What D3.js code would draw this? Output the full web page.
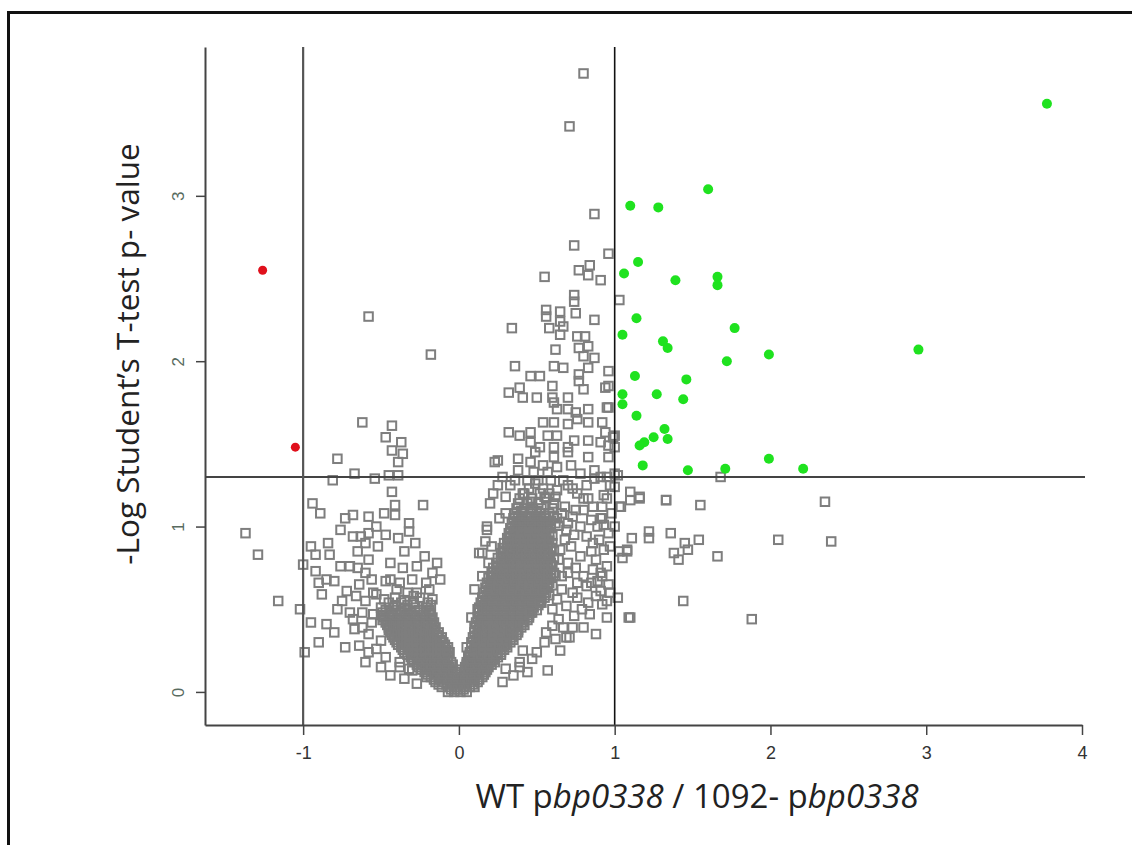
<!DOCTYPE html>
<meta charset="utf-8">
<style>
body { margin: 0; background: #fff; }
</style>
<svg width="1132" height="845" font-family="'Open Sans', Lato, sans-serif"></svg>
<script src="https://d3js.org/d3.v7.min.js"></script>
<script>

// tick values and cut-offs
const xTicks = [-1, 0, 1, 2, 3, 4];
const yTicks = [0, 1, 2, 3];
const foldCuts = [-1, 1];
const pCut = 1.3;

// significant proteins: [log ratio, -log p]
const upRegulated = [
	[3.775, 3.557], [1.10, 2.94], [1.28, 2.93], [1.60, 3.04], [1.15, 2.60], [1.06, 2.53],
	[1.39, 2.49], [1.66, 2.51], [1.66, 2.46], [1.14, 2.26], [1.77, 2.20], [1.05, 2.16],
	[1.31, 2.12], [1.34, 2.08], [1.99, 2.04], [1.72, 2.00], [1.13, 1.91], [1.46, 1.89],
	[1.05, 1.80], [1.27, 1.80], [1.44, 1.77], [1.05, 1.74], [1.14, 1.67], [1.32, 1.59],
	[1.34, 1.53], [1.25, 1.54], [1.19, 1.51], [1.16, 1.49], [1.18, 1.37], [1.47, 1.34],
	[1.71, 1.35], [1.99, 1.41], [2.21, 1.35], [2.95, 2.07]
];
const downRegulated = [[-1.26, 2.55], [-1.05, 1.48]];

// dense part of the volcano, one row per -log p level: [y, x, x, ...]
const denseRows = [
	[0.00, -0.07, -0.03, 0.01, 0.05],
	[0.03, -0.11, -0.06, -0.02, 0.03, 0.07, 0.10],
	[0.06, -0.15, -0.10, -0.05, -0.01, 0.04, 0.08, 0.12],
	[0.09, -0.18, -0.13, -0.08, -0.03, 0.01, 0.06, 0.10, 0.15],
	[0.12, -0.22, -0.17, -0.12, -0.07, -0.02, 0.03, 0.08, 0.12, 0.17],
	[0.15, -0.26, -0.21, -0.16, -0.11, -0.06, 0.04, 0.09, 0.14, 0.19],
	[0.18, -0.29, -0.24, -0.19, -0.14, -0.09, -0.05, 0.05, 0.10, 0.15, 0.20, 0.23],
	[0.21, -0.31, -0.27, -0.22, -0.17, -0.12, -0.07, 0.06, 0.11, 0.16, 0.21, 0.25],
	[0.24, -0.35, -0.30, -0.25, -0.20, -0.15, -0.10, -0.06, 0.07, 0.12, 0.17, 0.22, 0.27],
	[0.27, -0.37, -0.32, -0.27, -0.22, -0.17, -0.12, -0.07, 0.08, 0.13, 0.18, 0.23, 0.28, 0.31],
	[0.30, -0.40, -0.35, -0.30, -0.25, -0.20, -0.15, -0.10, 0.08, 0.13, 0.18, 0.23, 0.28, 0.33],
	[0.33, -0.42, -0.37, -0.32, -0.27, -0.22, -0.17, -0.11, 0.09, 0.14, 0.19, 0.24, 0.29, 0.34],
	[0.36, -0.44, -0.39, -0.34, -0.29, -0.24, -0.19, -0.13, 0.10, 0.15, 0.20, 0.25, 0.30, 0.35, 0.38],
	[0.39, -0.45, -0.40, -0.35, -0.30, -0.25, -0.20, -0.15, 0.10, 0.15, 0.20, 0.25, 0.30, 0.35, 0.40],
	[0.42, -0.47, -0.42, -0.37, -0.31, -0.26, -0.21, -0.16, 0.11, 0.16, 0.21, 0.26, 0.31, 0.36, 0.41],
	[0.45, -0.48, -0.43, -0.38, -0.33, -0.27, -0.22, -0.17, 0.12, 0.17, 0.22, 0.27, 0.32, 0.37, 0.42, 0.45],
	[0.48, -0.49, -0.43, -0.37, -0.31, -0.25, -0.19, 0.13, 0.18, 0.23, 0.28, 0.33, 0.38, 0.43, 0.47],
	[0.51, -0.50, -0.42, -0.35, -0.28, -0.21, 0.13, 0.18, 0.23, 0.28, 0.33, 0.38, 0.43, 0.48],
	[0.54, -0.45, -0.37, -0.29, -0.20, 0.14, 0.19, 0.24, 0.29, 0.34, 0.39, 0.44, 0.49, 0.53],
	[0.57, -0.41, -0.25, 0.15, 0.20, 0.25, 0.30, 0.35, 0.40, 0.45, 0.50, 0.55],
	[0.60, 0.16, 0.21, 0.26, 0.31, 0.36, 0.41, 0.46, 0.51, 0.56],
	[0.63, 0.17, 0.22, 0.27, 0.32, 0.37, 0.42, 0.47, 0.52, 0.57],
	[0.66, 0.18, 0.23, 0.28, 0.33, 0.38, 0.43, 0.48, 0.53, 0.58],
	[0.69, 0.19, 0.24, 0.29, 0.34, 0.39, 0.44, 0.49, 0.54, 0.59],
	[0.72, 0.21, 0.26, 0.31, 0.36, 0.41, 0.46, 0.51, 0.56, 0.61],
	[0.75, 0.22, 0.27, 0.32, 0.37, 0.42, 0.47, 0.52, 0.57],
	[0.78, 0.24, 0.29, 0.34, 0.39, 0.44, 0.49, 0.54, 0.59],
	[0.81, 0.25, 0.30, 0.35, 0.40, 0.45, 0.50, 0.55, 0.61],
	[0.84, 0.27, 0.32, 0.37, 0.42, 0.47, 0.52, 0.57],
	[0.87, 0.28, 0.33, 0.38, 0.43, 0.48, 0.53, 0.59],
	[0.90, 0.29, 0.34, 0.39, 0.44, 0.49, 0.54, 0.60],
	[0.93, 0.31, 0.36, 0.41, 0.46, 0.51, 0.56],
	[0.96, 0.32, 0.37, 0.42, 0.47, 0.52, 0.58],
	[0.99, 0.33, 0.38, 0.43, 0.48, 0.53, 0.59],
	[1.02, 0.34, 0.39, 0.44, 0.49, 0.55, 0.62],
	[1.05, 0.35, 0.40, 0.45, 0.50, 0.56, 0.63],
	[1.08, 0.36, 0.41, 0.46, 0.52, 0.58],
	[1.11, 0.37, 0.42, 0.47, 0.53, 0.60],
	[1.14, 0.38, 0.44, 0.51, 0.61],
	[1.17, 0.39, 0.47, 0.56],
	[1.20, 0.42, 0.52, 0.58],
	[1.23, 0.45, 0.54],
	[1.26, 0.49]
];

// rows lying between the ones above
const denseRowsMid = [
	[0.015, -0.05, -0.01, 0.03],
	[0.045, -0.13, -0.08, -0.04, 0.01, 0.05, 0.09],
	[0.075, -0.16, -0.12, -0.07, -0.02, 0.02, 0.06, 0.10, 0.13],
	[0.105, -0.20, -0.15, -0.10, -0.05, -0.01, 0.04, 0.08, 0.13, 0.16],
	[0.135, -0.24, -0.19, -0.14, -0.09, -0.04, 0.01, 0.06, 0.10, 0.15, 0.18],
	[0.165, -0.27, -0.23, -0.18, -0.13, -0.08, -0.04, 0.05, 0.07, 0.12, 0.17, 0.21],
	[0.195, -0.30, -0.26, -0.21, -0.16, -0.11, -0.07, 0.06, 0.08, 0.13, 0.18, 0.22],
	[0.225, -0.33, -0.29, -0.24, -0.19, -0.14, -0.09, 0.07, 0.09, 0.14, 0.19, 0.24, 0.27],
	[0.255, -0.36, -0.32, -0.27, -0.22, -0.17, -0.12, -0.08, 0.10, 0.15, 0.20, 0.25, 0.29],
	[0.285, -0.39, -0.34, -0.29, -0.24, -0.19, -0.14, -0.09, 0.10, 0.15, 0.20, 0.26, 0.30],
	[0.315, -0.41, -0.37, -0.32, -0.27, -0.22, -0.17, -0.12, 0.11, 0.16, 0.21, 0.26, 0.31, 0.35],
	[0.345, -0.43, -0.39, -0.34, -0.29, -0.24, -0.19, -0.14, 0.12, 0.17, 0.22, 0.27, 0.32, 0.37],
	[0.375, -0.45, -0.41, -0.36, -0.31, -0.26, -0.21, -0.16, 0.12, 0.17, 0.22, 0.28, 0.33, 0.38],
	[0.405, -0.46, -0.42, -0.37, -0.32, -0.27, -0.22, -0.17, 0.13, 0.18, 0.23, 0.28, 0.33, 0.38, 0.42],
	[0.435, -0.49, -0.44, -0.39, -0.34, -0.28, -0.23, -0.18, 0.14, 0.19, 0.24, 0.29, 0.34, 0.39, 0.44],
	[0.465, -0.50, -0.45, -0.40, -0.35, -0.29, -0.23, -0.18, 0.15, 0.20, 0.25, 0.30, 0.35, 0.40, 0.45],
	[0.495, -0.47, -0.40, -0.33, -0.26, -0.19, 0.15, 0.20, 0.25, 0.30, 0.35, 0.40, 0.45, 0.50],
	[0.525, -0.41, -0.33, -0.18, 0.16, 0.21, 0.26, 0.31, 0.36, 0.41, 0.46, 0.51],
	[0.555, -0.35, 0.17, 0.22, 0.27, 0.32, 0.37, 0.42, 0.47, 0.52],
	[0.585, 0.18, 0.23, 0.28, 0.33, 0.38, 0.43, 0.48, 0.53, 0.58],
	[0.615, 0.19, 0.24, 0.29, 0.34, 0.39, 0.44, 0.49, 0.54],
	[0.645, 0.20, 0.25, 0.30, 0.35, 0.40, 0.45, 0.50, 0.55, 0.60],
	[0.675, 0.21, 0.26, 0.31, 0.36, 0.41, 0.46, 0.51, 0.56],
	[0.705, 0.22, 0.27, 0.32, 0.37, 0.42, 0.47, 0.52, 0.57, 0.62],
	[0.735, 0.24, 0.29, 0.34, 0.39, 0.44, 0.49, 0.54, 0.59],
	[0.765, 0.25, 0.30, 0.35, 0.40, 0.45, 0.50, 0.55, 0.60],
	[0.795, 0.27, 0.32, 0.37, 0.42, 0.47, 0.52, 0.57],
	[0.825, 0.28, 0.33, 0.38, 0.43, 0.48, 0.53, 0.58],
	[0.855, 0.29, 0.34, 0.40, 0.45, 0.50, 0.55, 0.61],
	[0.885, 0.31, 0.36, 0.41, 0.46, 0.51, 0.57],
	[0.915, 0.32, 0.37, 0.42, 0.47, 0.53, 0.58],
	[0.945, 0.33, 0.39, 0.44, 0.49, 0.54, 0.60],
	[0.975, 0.35, 0.40, 0.45, 0.50, 0.56],
	[1.005, 0.36, 0.41, 0.46, 0.52, 0.57, 0.64],
	[1.035, 0.37, 0.42, 0.47, 0.53, 0.59],
	[1.065, 0.38, 0.43, 0.49, 0.55, 0.61],
	[1.095, 0.40, 0.50]
];

// scattered non-significant proteins
const sparseAbove = [
	[0.80, 3.74], [0.71, 3.42], [0.87, 2.89], [0.74, 2.70], [0.96, 2.65], [0.84, 2.58], [0.77, 2.55],
	[0.83, 2.52], [0.91, 2.49], [0.55, 2.51], [0.74, 2.40], [0.74, 2.36], [0.56, 2.31], [0.56, 2.27],
	[0.65, 2.30], [0.75, 2.29], [0.87, 2.25], [0.34, 2.20], [0.58, 2.20], [0.65, 2.24], [0.67, 2.21],
	[0.65, 2.16], [0.76, 2.15], [0.81, 2.15], [0.62, 2.07], [0.77, 2.08], [0.83, 2.09], [0.80, 2.03],
	[0.87, 2.02], [0.36, 1.97], [0.61, 1.97], [0.67, 1.96], [0.83, 1.96], [0.96, 1.94], [0.46, 1.91],
	[0.52, 1.91], [0.77, 1.92], [0.77, 1.88], [0.39, 1.84], [0.32, 1.81], [0.41, 1.78], [0.50, 1.78],
	[0.60, 1.85], [0.60, 1.78], [0.70, 1.78], [0.61, 1.75], [0.96, 1.85], [0.80, 1.83], [0.96, 1.72],
	[0.63, 1.71], [0.70, 1.71], [0.75, 1.69], [0.83, 1.71], [0.76, 1.65], [0.83, 1.63], [0.92, 1.63],
	[0.54, 1.63], [0.61, 1.63], [0.70, 1.62], [0.32, 1.57], [0.39, 1.55], [0.46, 1.57], [0.57, 1.55],
	[0.63, 1.55], [0.74, 1.52], [0.83, 1.52], [0.94, 1.57], [0.99, 1.54], [0.91, 1.51], [0.46, 1.51],
	[0.52, 1.48], [0.61, 1.48], [0.70, 1.48], [0.49, 1.45], [0.61, 1.42], [0.70, 1.45], [0.83, 1.42],
	[0.96, 1.42], [0.25, 1.40], [0.38, 1.41], [0.46, 1.39], [0.54, 1.37], [0.63, 1.36], [0.72, 1.37],
	[0.38, 1.34], [0.48, 1.33], [0.57, 1.33], [0.87, 1.34], [0.78, 1.32], [1.03, 2.37], [0.94, 1.84],
	[0.95, 1.72], [1.00, 1.55], [0.96, 1.49], [1.00, 1.48], [1.00, 1.32], [1.68, 1.30], [0.23, 1.39],
	[-0.58, 2.27], [-0.18, 2.04], [-0.62, 1.63], [-0.43, 1.61], [-0.47, 1.54], [-0.37, 1.51],
	[-0.43, 1.46], [-0.36, 1.44], [-0.39, 1.39], [-0.78, 1.41], [-0.67, 1.32], [-0.45, 1.31],
	[-0.39, 1.31], [-0.54, 1.29]
];

const sparseLeft = [
	[-0.81, 1.28], [-0.43, 1.21], [-0.94, 1.14], [-0.89, 1.08], [-0.73, 1.05], [-0.68, 1.07],
	[-0.58, 1.06], [-0.48, 1.08], [-0.41, 1.07], [-0.41, 1.13], [-0.23, 1.13], [-0.32, 1.02],
	[-0.32, 0.97], [-0.39, 0.93], [-0.68, 0.94], [-0.63, 0.94], [-0.58, 0.96], [-0.60, 0.90],
	[-0.65, 0.85], [-1.37, 0.96], [-1.29, 0.83], [-0.95, 0.88], [-0.92, 0.83], [-0.83, 0.83],
	[-1.00, 0.77], [-0.92, 0.73], [-0.85, 0.68], [-0.80, 0.67], [-0.76, 0.76], [-0.70, 0.76],
	[-0.65, 0.75], [-0.44, 0.78], [-0.36, 0.75], [-0.27, 0.76], [-0.17, 0.72], [-0.60, 0.72],
	[-0.56, 0.68], [-0.47, 0.67], [-0.72, 0.61], [-0.66, 0.58], [-0.60, 0.55], [-0.53, 0.59],
	[-0.48, 0.56], [-1.16, 0.55], [-1.02, 0.50], [-0.88, 0.59], [-0.85, 0.41], [-0.80, 0.36],
	[-0.73, 0.27], [-0.67, 0.38], [-0.62, 0.39], [-0.56, 0.42], [-0.50, 0.31], [-0.60, 0.18],
	[-0.99, 0.24], [-0.47, 0.21], [-0.38, 0.15], [-0.32, 0.14], [-0.38, 0.18], [-0.30, 0.13],
	[-0.21, 0.09], [-0.44, 0.68], [-0.38, 0.66], [-0.30, 0.68], [-0.21, 0.66], [-0.19, 0.62],
	[-0.27, 0.60], [-0.55, 0.47], [-0.58, 0.35], [-0.53, 0.26], [-0.70, 0.48], [-0.75, 0.55],
	[-0.64, 0.65], [-0.58, 0.80], [-0.52, 0.88], [-0.47, 0.95], [-0.53, 1.00], [-0.35, 0.85],
	[-0.28, 0.90], [-0.22, 0.82], [-0.14, 0.78], [-0.12, 0.68], [-0.55, 0.60], [-0.62, 0.48],
	[-0.68, 0.44], [-0.78, 0.50], [-0.90, 0.66], [-0.84, 0.90], [-0.76, 0.98], [-0.50, 0.15],
	[-0.44, 0.10], [-0.35, 0.08], [-0.27, 0.05], [-0.64, 0.28], [-0.58, 0.24], [-0.90, 0.30],
	[-0.95, 0.42], [-0.33, 0.60], [-0.40, 0.62], [-0.17, 0.56], [-0.29, 0.58]
];

const sparseRight = [
	[0.18, 0.98], [0.20, 1.14], [0.17, 0.91], [0.13, 0.84], [0.15, 0.70], [0.12, 0.50], [0.18, 1.00],
	[0.15, 0.84], [0.05, 0.27], [0.26, 1.05], [0.30, 1.18], [0.33, 1.25], [0.36, 1.28], [0.44, 1.28],
	[0.51, 1.28], [0.59, 1.28], [0.67, 1.28], [0.87, 1.29], [0.91, 1.30], [0.97, 1.25], [0.63, 1.22],
	[0.73, 1.23], [0.93, 1.19], [0.83, 1.17], [0.80, 1.17], [0.92, 1.05], [0.91, 0.72], [0.86, 0.74],
	[0.76, 0.66], [0.82, 0.64], [0.91, 0.61], [0.76, 0.57], [0.83, 0.54], [0.73, 0.39], [0.80, 0.39],
	[0.69, 0.33], [0.57, 0.13], [0.65, 0.25], [0.50, 0.24], [0.39, 0.18], [0.28, 0.06], [0.86, 0.90],
	[0.93, 0.86], [0.72, 0.88], [0.78, 0.82], [0.82, 0.94], [0.89, 1.00], [0.92, 1.12], [0.95, 1.17],
	[0.86, 1.12], [0.73, 1.06], [0.78, 1.00], [0.69, 0.98], [0.71, 0.33], [0.39, 0.15], [0.41, 0.25],
	[0.56, 0.36], [0.67, 0.39], [0.73, 0.60], [0.60, 0.50], [0.46, 0.48], [0.52, 0.54], [0.66, 0.70],
	[0.70, 0.78], [0.65, 0.86], [0.68, 1.12], [0.75, 1.10], [0.88, 0.80], [0.84, 0.47], [0.64, 0.44],
	[0.62, 1.18], [0.66, 1.08], [0.70, 1.02], [0.74, 0.95], [0.68, 0.92], [0.64, 0.80], [0.70, 0.72],
	[0.75, 0.75], [0.80, 0.70], [0.85, 0.66], [0.88, 0.58], [0.79, 0.50], [0.74, 0.46], [0.69, 0.52],
	[0.63, 0.56], [0.66, 0.62], [0.85, 0.85], [0.90, 0.92], [0.96, 0.96], [0.97, 0.88], [0.98, 1.08],
	[0.85, 1.04], [0.80, 1.10], [0.76, 1.20], [0.70, 1.25], [0.82, 1.25], [0.95, 1.30], [0.60, 0.40],
	[0.55, 0.30], [0.62, 0.32], [0.47, 0.20], [0.44, 0.12], [0.35, 0.10], [0.30, 0.14], [0.88, 0.35],
	[0.95, 0.55], [0.97, 0.60], [0.89, 0.67], [0.22, 1.20], [0.25, 1.25], [0.28, 1.30], [0.30, 1.08],
	[0.21, 0.88], [0.19, 0.78], [0.10, 0.62], [0.08, 0.45], [0.41, 1.20], [0.55, 1.18], [0.46, 1.15],
	[1.10, 1.21], [1.16, 1.17], [1.10, 1.16], [1.04, 1.12], [1.33, 1.16], [1.55, 1.13], [2.35, 1.15],
	[1.00, 1.24], [1.22, 0.97], [1.22, 0.93], [1.36, 0.96], [1.11, 0.93], [1.54, 0.92], [2.05, 0.92],
	[2.39, 0.91], [1.08, 0.85], [1.05, 0.81], [1.38, 0.84], [1.45, 0.90], [1.47, 0.86], [1.41, 0.80],
	[1.66, 0.82], [1.02, 0.57], [1.44, 0.55], [1.10, 0.45], [1.88, 0.44], [0.93, 1.01], [1.00, 1.00],
	[0.91, 1.05], [0.95, 0.76], [0.92, 0.70], [0.96, 0.65], [0.92, 0.53], [0.95, 0.45], [1.02, 1.31],
	[1.09, 0.45], [1.03, 0.85], [1.08, 0.86], [1.03, 1.12], [1.16, 1.18], [1.33, 1.16]
];

const svg = d3.select('svg');

const x = d3.scaleLinear().domain([-1.63, 4]).range([205, 1082]);
const y = d3.scaleLinear().domain([-0.2, 3.9]).range([725, 47]);

// frame round the figure
svg.append('rect')
	.attr('x', 8.5).attr('y', 12.5)
	.attr('width', 1200).attr('height', 900)
	.attr('fill', 'none')
	.attr('stroke', '#111')
	.attr('stroke-width', 3);

const toPoints = (rows) => rows.flatMap((row) => row.slice(1).map((v) => [v, row[0]]));
const greyPoints = toPoints(denseRows)
	.concat(toPoints(denseRowsMid), sparseAbove, sparseLeft, sparseRight);

const side = 8.5;
svg.append('g')
	.selectAll('rect')
	.data(greyPoints)
	.join('rect')
	.attr('x', (d) => x(d[0]) - side / 2)
	.attr('y', (d) => y(d[1]) - side / 2)
	.attr('width', side)
	.attr('height', side)
	.attr('fill', 'none')
	.attr('stroke', '#7e7e7e')
	.attr('stroke-width', 2);

// cut-off lines
svg.append('line')
	.attr('x1', x.range()[0]).attr('x2', 1085)
	.attr('y1', y(pCut)).attr('y2', y(pCut))
	.attr('stroke', '#444').attr('stroke-width', 2);

svg.selectAll('.cut')
	.data(foldCuts)
	.join('line')
	.attr('class', 'cut')
	.attr('x1', (d) => x(d)).attr('x2', (d) => x(d))
	.attr('y1', y.range()[1]).attr('y2', y.range()[0])
	.attr('stroke', (d) => d < 0 ? '#555' : '#111')
	.attr('stroke-width', (d) => d < 0 ? 2.2 : 1.6);

svg.append('g')
	.selectAll('circle')
	.data(upRegulated)
	.join('circle')
	.attr('cx', (d) => x(d[0]))
	.attr('cy', (d) => y(d[1]))
	.attr('r', 5)
	.attr('fill', '#1fe21f');

svg.append('g')
	.selectAll('circle')
	.data(downRegulated)
	.join('circle')
	.attr('cx', (d) => x(d[0]))
	.attr('cy', (d) => y(d[1]))
	.attr('r', 4.5)
	.attr('fill', '#e0101c');

// axes
const plain = (d) => String(d);

const xAxis = svg.append('g')
	.attr('transform', `translate(0,${y.range()[0]})`)
	.call(d3.axisBottom(x).tickValues(xTicks).tickFormat(plain).tickSize(10).tickSizeOuter(0).tickPadding(11));
xAxis.select('.domain').attr('stroke', '#444').attr('stroke-width', 2);
xAxis.selectAll('.tick line').attr('stroke', '#444').attr('stroke-width', 1.5);
xAxis.selectAll('.tick text')
	.attr('font-family', "'Liberation Sans', sans-serif")
	.attr('font-size', 18)
	.attr('fill', '#333');

const yAxis = svg.append('g')
	.attr('transform', `translate(${x.range()[0]},0)`)
	.call(d3.axisLeft(y).tickValues(yTicks).tickFormat(plain).tickSize(9).tickSizeOuter(0).tickPadding(6));
yAxis.select('.domain').attr('stroke', '#444').attr('stroke-width', 2);
yAxis.selectAll('.tick line').attr('stroke', '#444').attr('stroke-width', 1.5);
yAxis.selectAll('.tick text')
	.attr('font-family', "'Liberation Sans', sans-serif")
	.attr('font-size', 17)
	.attr('fill', '#586b60')
	.attr('text-anchor', 'middle')
	.attr('x', null)
	.attr('dy', null)
	.attr('transform', 'translate(-27,0) rotate(-90)')
	.attr('y', 6);

// axis titles
const xTitle = svg.append('text')
	.attr('x', 697)
	.attr('y', 808)
	.attr('text-anchor', 'middle')
	.attr('font-size', 33)
	.attr('fill', '#222');
xTitle.append('tspan').text('WT p');
xTitle.append('tspan').attr('font-style', 'italic').text('bp0338');
xTitle.append('tspan').text(' / 1092- p');
xTitle.append('tspan').attr('font-style', 'italic').text('bp0338');

svg.append('text')
	.attr('transform', 'translate(139,354) rotate(-90)')
	.attr('text-anchor', 'middle')
	.attr('font-size', 31.5)
	.attr('fill', '#222')
	.text('-Log Student’s T-test p- value');

</script>
